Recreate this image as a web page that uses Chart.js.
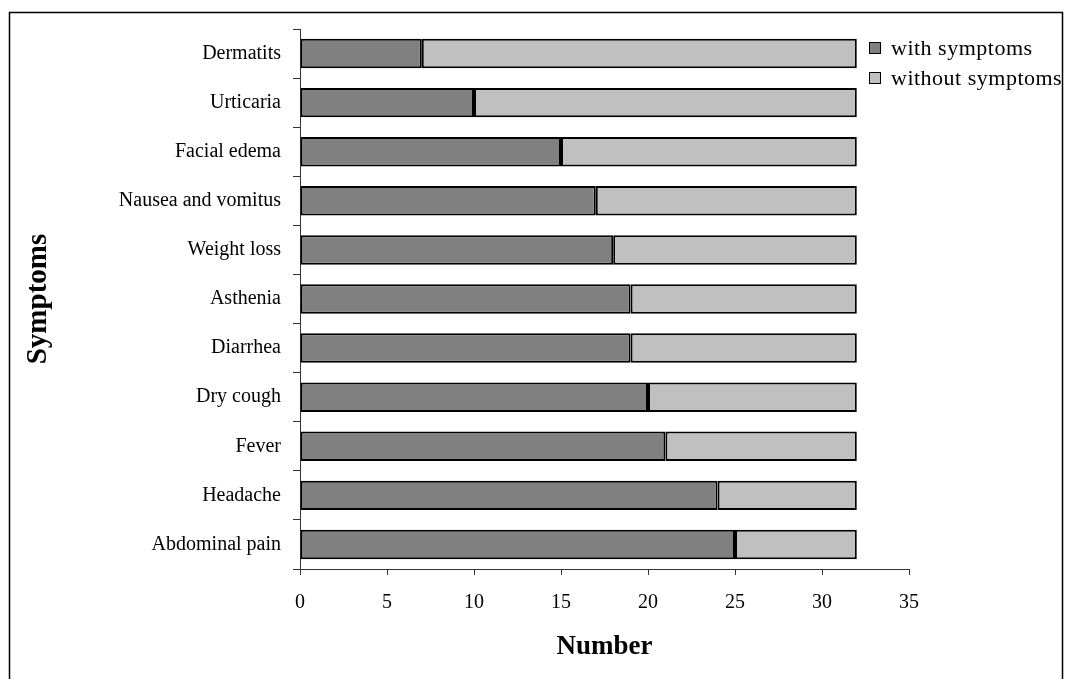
<!DOCTYPE html>
<html>
<head>
    <title>Symptoms</title>
    <script src="https://cdn.jsdelivr.net/npm/chart.js@4.4.0/dist/chart.umd.min.js"></script>
    <style>
        body { margin: 0; background: white; }
        .wrap { position: relative; width: 1066px; height: 679px; }
        .legend {
            position: absolute;
            left: 869px;
            top: 33px;
            width: 193px;
            overflow: hidden;
            font-family: "Liberation Serif", "Times New Roman", serif;
            font-size: 22px;
            letter-spacing: 0.5px;
            color: #000;
        }
        .legend div { height: 30px; display: flex; align-items: center; white-space: nowrap; }
        .legend span {
            flex: none;
            width: 10px;
            height: 10px;
            border: 1px solid #000;
            margin-right: 10px;
        }
    </style>
</head>
<body>
    <div class="wrap">
        <canvas id="chart" width="1066" height="679"></canvas>
        <div class="legend" id="legend"></div>
    </div>

    <script>
        const symptoms = ['Dermatits', 'Urticaria', 'Facial edema', 'Nausea and vomitus', 'Weight loss',
            'Asthenia', 'Diarrhea', 'Dry cough', 'Fever', 'Headache', 'Abdominal pain'];
        const withSymptoms = [7, 10, 15, 17, 18, 19, 19, 20, 21, 24, 25];
        const withoutSymptoms = [25, 22, 17, 15, 14, 13, 13, 12, 11, 8, 7];
        const xTicks = [0, 5, 10, 15, 20, 25, 30, 35];

        const serif = '"Liberation Serif", "Times New Roman", serif';

        // outer frame like the original figure
        const framePlugin = {
            id: 'frame',
            beforeDraw(chart) {
                const c = chart.ctx;
                c.save();
                c.fillStyle = '#fff';
                c.fillRect(0, 0, chart.width, chart.height);
                c.strokeStyle = '#000';
                c.lineWidth = 1.5;
                c.strokeRect(9.5, 12.5, 1053, 700);
                c.restore();
            }
        };

        const chart = new Chart(document.getElementById('chart'), {
            type: 'bar',
            data: {
                labels: symptoms,
                datasets: [{
                    label: 'with symptoms',
                    data: withSymptoms,
                    backgroundColor: '#808080',
                    borderColor: '#000',
                    borderWidth: 2,
                    borderSkipped: false
                }, {
                    label: 'without symptoms',
                    data: withoutSymptoms,
                    backgroundColor: '#c0c0c0',
                    borderColor: '#000',
                    borderWidth: 2,
                    borderSkipped: false
                }]
            },
            options: {
                indexAxis: 'y',
                responsive: false,
                animation: false,
                barPercentage: 0.6,
                categoryPercentage: 1,
                layout: { padding: { top: 29, left: 0, right: 157, bottom: 0 } },
                plugins: { legend: { display: false }, tooltip: { enabled: false } },
                scales: {
                    x: {
                        stacked: true,
                        min: 0,
                        max: 35,
                        afterBuildTicks: s => { s.ticks = xTicks.map(v => ({ value: v })); },
                        afterFit: s => { s.height = 679 - 569; },
                        border: { color: '#333', width: 1 },
                        grid: { drawOnChartArea: false, drawTicks: true, tickLength: 6, color: '#333' },
                        ticks: { color: '#000', padding: 16, maxRotation: 0, font: { family: serif, size: 20 } },
                        title: {
                            display: true, text: 'Number', color: '#000',
                            font: { family: serif, size: 27, weight: 'bold' },
                            padding: { top: 0, bottom: 16 }
                        }
                    },
                    y: {
                        stacked: true,
                        afterFit: s => { s.width = 300; },
                        border: { color: '#333', width: 1 },
                        grid: { drawOnChartArea: false, drawTicks: true, tickLength: 7, color: '#333', offset: true },
                        ticks: { color: '#000', padding: 12, font: { family: serif, size: 20 } },
                        title: {
                            display: true, text: 'Symptoms', color: '#000',
                            font: { family: serif, size: 29, weight: 'bold' },
                            padding: { top: 21, bottom: 0 }
                        }
                    }
                }
            },
            plugins: [framePlugin]
        });

        document.getElementById('legend').innerHTML = chart.data.datasets.map(d =>
            '<div><span style="background:' + d.backgroundColor + '"></span>' + d.label + '</div>').join('');
    </script>
</body>
</html>
